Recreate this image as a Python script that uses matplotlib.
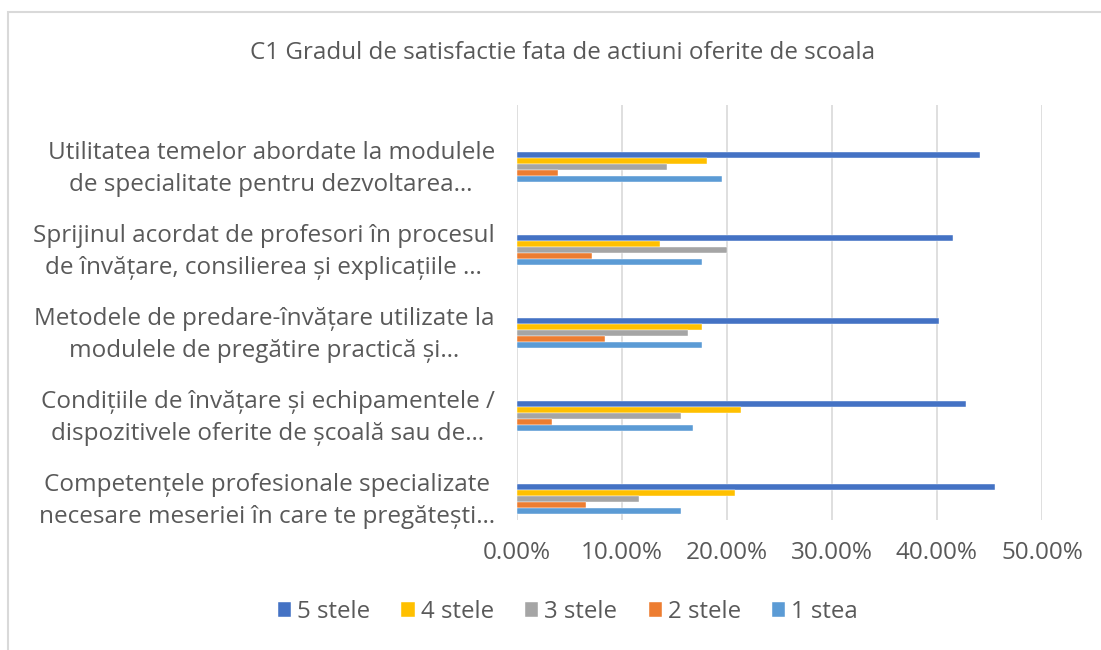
import matplotlib.pyplot as plt
from matplotlib.patches import Rectangle
from matplotlib.ticker import PercentFormatter
from matplotlib.transforms import ScaledTranslation

# categories listed top to bottom
categories = [
    "Utilitatea temelor abordate la modulele\nde specialitate pentru dezvoltarea…",
    "Sprijinul acordat de profesori în procesul\nde învățare, consilierea și explicațiile …",
    "Metodele de predare-învățare utilizate la\nmodulele de pregătire practică și…",
    "Condițiile de învățare și echipamentele /\ndispozitivele oferite de școală sau de…",
    "Competențele profesionale specializate\nnecesare meseriei în care te pregătești…",
]
series_names = ["5 stele", "4 stele", "3 stele", "2 stele", "1 stea"]
stele5 = [44.1, 41.5, 40.2, 42.8, 45.5]
stele4 = [18.1, 13.6, 17.6, 21.3, 20.8]
stele3 = [14.3, 20.0, 16.3, 15.6, 11.6]
stele2 = [3.9, 7.1, 8.4, 3.3, 6.6]
stea1 = [19.5, 17.6, 17.6, 16.8, 15.6]
colors = ["#4472C4", "#FFC000", "#A5A5A5", "#ED7D31", "#5B9BD5"]

title = "C1 Gradul de satisfactie fata de actiuni oferite de scoala"
text_color = "#595959"

plt.rcParams['font.family'] = ['Open Sans', 'DejaVu Sans']

fig = plt.figure(figsize=(11.01, 6.5), dpi=100)
ax = fig.add_axes([517 / 1101, 1 - 520 / 650, (1042 - 517) / 1101, 415 / 650])

values = [stele5, stele4, stele3, stele2, stea1]
bar_h = 0.07
for k, (name, vals, c) in enumerate(zip(series_names, values, colors)):
    pos = [i + (k - 2) * bar_h for i in range(len(categories))]
    ax.barh(pos, vals, height=bar_h, color=c, label=name,
            edgecolor="white", linewidth=0.3)

ax.set_xlim(0, 50)
ax.set_ylim(4.253, -0.747)
ax.set_xticks([0, 10, 20, 30, 40, 50])
ax.xaxis.set_major_formatter(PercentFormatter(decimals=2))
ax.set_yticks(range(len(categories)))
ax.set_yticklabels(categories, multialignment="center", linespacing=1.45)
ax.tick_params(axis="both", length=0, colors=text_color)
ax.tick_params(axis="y", pad=16, labelsize=17.5)
ax.tick_params(axis="x", pad=15, labelsize=17.5)
# nudge category labels up a little
shift = ScaledTranslation(0, 5 / 100, fig.dpi_scale_trans)
for lbl in ax.get_yticklabels():
    lbl.set_transform(lbl.get_transform() + shift)
for s in ax.spines.values():
    s.set_visible(False)
ax.grid(axis="x", color="#d9d9d9", linewidth=1.2)
ax.set_axisbelow(True)

fig.text(563 / 1101, 1 - 53 / 650, title, ha="center", va="center",
         fontsize=17.4, color=text_color)

fig.legend(loc="center", bbox_to_anchor=(568 / 1101, 1 - 612 / 650), ncol=5,
           frameon=False, fontsize=17.3, labelcolor=text_color,
           handlelength=0.55, handleheight=0.55, handletextpad=0.25,
           columnspacing=1.3)

fig.patches.append(Rectangle((8 / 1101, -0.1), 2, 1.1 - 12 / 650, fill=False,
                             edgecolor="#d9d9d9", linewidth=1.5,
                             transform=fig.transFigure, clip_on=False))

fig.savefig("out.png", dpi=100)
